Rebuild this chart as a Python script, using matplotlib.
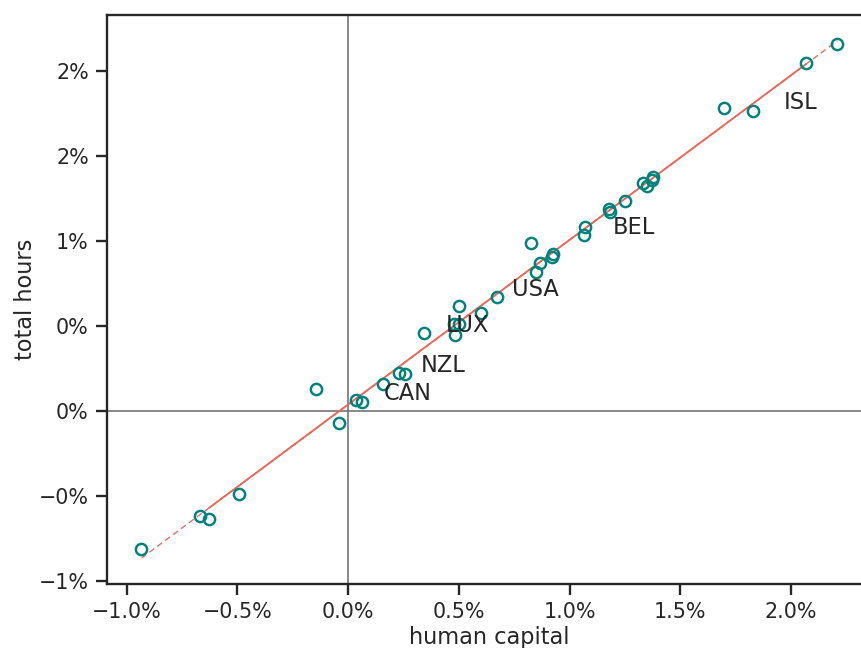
import numpy as np
import matplotlib
matplotlib.use("Agg")
import matplotlib.pyplot as plt
import seaborn as sns
from matplotlib.ticker import FuncFormatter, MultipleLocator

# growth contributions, in percent
human_capital = [-0.933, -0.670, -0.626, -0.494, -0.144, -0.043, 0.037, 0.065,
                 0.157, 0.228, 0.259, 0.341, 0.476, 0.503, 0.484, 0.500,
                 0.600, 0.672, 0.825, 0.849, 0.867, 0.920, 0.927, 1.066,
                 1.070, 1.177, 1.183, 1.251, 1.333, 1.349, 1.371, 1.379,
                 1.698, 1.830, 2.068, 2.209]
total_hours = [-0.814, -0.618, -0.638, -0.489, 0.126, -0.074, 0.063, 0.053,
               0.157, 0.225, 0.214, 0.460, 0.509, 0.513, 0.445, 0.617,
               0.578, 0.669, 0.986, 0.816, 0.869, 0.904, 0.924, 1.032,
               1.080, 1.188, 1.169, 1.237, 1.339, 1.325, 1.359, 1.374,
               1.785, 1.766, 2.046, 2.157]

# country labels and where they sit
labels = ["ISL", "BEL", "USA", "LUX", "NZL", "CAN"]
label_x = [1.965, 1.195, 0.740, 0.442, 0.329, 0.160]
label_y = [1.813, 1.080, 0.715, 0.505, 0.268, 0.101]

x = np.array(human_capital) / 100
y = np.array(total_hours) / 100

sns.set_theme(style="ticks")
plt.rcParams['font.family'] = ['DejaVu Sans']

fig = plt.figure(figsize=(861 / 135, 648 / 135), dpi=135)
ax = fig.add_axes([0.1239, 0.0988, 0.889, 0.8781])

teal = "#00827c"
red = "#e8675b"

ax.axhline(0, color="0.4", lw=0.8, zorder=1)
ax.axvline(0, color="0.4", lw=0.8, zorder=1)

# least squares fit
slope, intercept = np.polyfit(x, y, 1)
xs = np.sort(x)
ax.plot([xs[0], xs[-1]], [intercept + slope * xs[0], intercept + slope * xs[-1]],
        color=red, lw=0.7, dashes=(4.5, 3), zorder=2)
ax.plot([xs[2], xs[-2]], [intercept + slope * xs[2], intercept + slope * xs[-2]],
        color=red, lw=1.0, zorder=2)

ax.plot(x, y, "o", ms=6, mfc="none", mec=teal, mew=1.3, zorder=3)

for lab, lx, ly in zip(labels, label_x, label_y):
    ax.text(lx / 100, ly / 100, lab, fontsize=12, ha="left", va="center",
            color=".15")


def pct(v, decimals):
    # round half to even on the percent value, like the original labels
    s = "{:.{d}f}%".format(round(v * 100, 6), d=decimals)
    return s.replace("-", "\u2212")


ax.xaxis.set_major_locator(MultipleLocator(0.005))
ax.yaxis.set_major_locator(MultipleLocator(0.005))
ax.xaxis.set_major_formatter(FuncFormatter(lambda v, p: pct(v, 1)))
ax.yaxis.set_major_formatter(FuncFormatter(lambda v, p: pct(v, 0)))

ax.set_xlabel("human capital", labelpad=2)
ax.set_ylabel("total hours", labelpad=1)

fig.savefig("out.png", dpi=135)
